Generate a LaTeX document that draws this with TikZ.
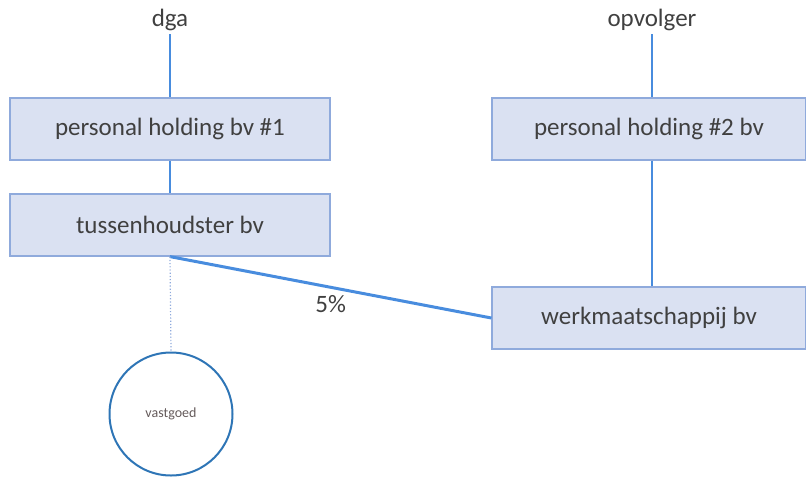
\documentclass[tikz,border=0pt]{standalone}
\usepackage{fontspec}
\setmainfont{Carlito}
\definecolor{txt}{RGB}{64,64,64}
\definecolor{boxfill}{RGB}{218,225,242}
\definecolor{boxline}{RGB}{143,170,220}
\definecolor{conn}{RGB}{72,140,222}
\definecolor{circ}{RGB}{46,117,182}
\definecolor{vtxt}{RGB}{100,90,90}
\begin{document}
\begin{tikzpicture}[x=1pt,y=-1pt,
  entbox/.style={draw=boxline, line width=1.2pt, fill=boxfill, minimum height=62pt, inner sep=0pt, font=\fontsize{25}{30}\selectfont, text=txt},
  lbl/.style={font=\fontsize{25}{30}\selectfont, text=txt, inner sep=1pt},
  link/.style={draw=conn, line width=1.6pt},
  thick link/.style={draw=conn, line width=3pt}]
\useasboundingbox (0,0) rectangle (806,477);
\node[lbl] (dga) at (170,20) {dga};
\node[lbl] (opv) at (652,20) {opvolger};
\node[entbox, minimum width=320pt] (ph1) at (170,129) {personal holding bv \#1};
\node[entbox, minimum width=320pt] (tus) at (170,225) {tussenhoudster bv};
\node[entbox, minimum width=314pt] (ph2) at (649,129) {personal holding \#2 bv};
\node[entbox, minimum width=314pt] (wm) at (649,318) {werkmaatschappij bv};
\node[circle, draw=circ, line width=2pt, minimum size=123pt, inner sep=0pt, font=\fontsize{14}{16}\selectfont, text=vtxt] (vg) at (171,414) {vastgoed};
\coordinate (dgabot) at (170,34);
\coordinate (opvbot) at (652,34);
\draw[link] (dgabot) -- (ph1.north);
\draw[link] (ph1.south) -- (tus.north);
\draw[link] (opvbot) -- (ph2.north -| opvbot);
\draw[link] (ph2.south -| opvbot) -- (wm.north -| opvbot);
\draw[thick link] (tus.south) -- node[pos=0.5, below=3pt, font=\fontsize{25}{30}\selectfont, text=txt] {5\%} (wm.west);
\draw[draw=boxline, line width=1.2pt, dotted] (tus.south) -- (vg.north);
\end{tikzpicture}
\end{document}
